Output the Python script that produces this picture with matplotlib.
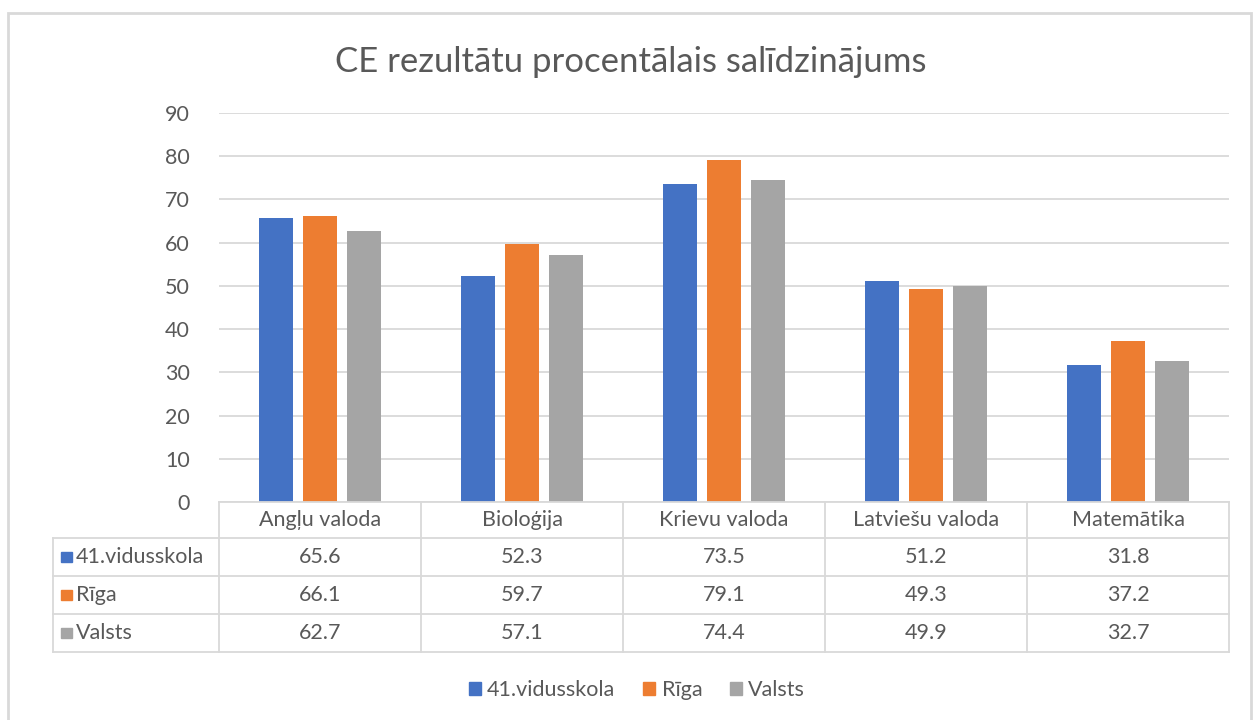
import numpy as np
import matplotlib.pyplot as plt
from matplotlib.patches import Rectangle
from matplotlib.lines import Line2D

plt.rcParams['font.family'] = ['Lato', 'DejaVu Sans']

categories = ["Angļu valoda", "Bioloģija", "Krievu valoda", "Latviešu valoda", "Matemātika"]
series_names = ["41.vidusskola", "Rīga", "Valsts"]
vidusskola = [65.6, 52.3, 73.5, 51.2, 31.8]
riga = [66.1, 59.7, 79.1, 49.3, 37.2]
valsts = [62.7, 57.1, 74.4, 49.9, 32.7]
series_values = [vidusskola, riga, valsts]
colors = ["#4472C4", "#ED7D31", "#A5A5A5"]
yticks = [0, 10, 20, 30, 40, 50, 60, 70, 80, 90]

W, H = 1259, 720
TXT = "#595959"
LINE = "#D9D9D9"
FS = 15.5

fig = plt.figure(figsize=(W / 100, H / 100), dpi=100)


def fx(px):
    return px / W


def fy(py):
    return 1 - py / H


# outer chart border
fig.add_artist(Rectangle((fx(8), fy(760)), fx(1251 - 8), fy(13) - fy(760),
                         transform=fig.transFigure, fill=False, ec=LINE, lw=2.0))

ax = fig.add_axes([fx(219), fy(502), fx(1229 - 219), fy(113) - fy(502)])
x = np.arange(len(categories))
bw, step = 0.168, 0.22
for i, (vals, c) in enumerate(zip(series_values, colors)):
    ax.bar(x + (i - 1) * step, vals, width=bw, color=c, zorder=3)

ax.set_xlim(-0.5, len(categories) - 0.5)
ax.set_ylim(0, 90)
ax.set_yticks(yticks)
ax.set_xticks([])
ax.tick_params(axis="y", length=0, pad=21, labelsize=15.5, labelcolor=TXT)
ax.grid(axis="y", color=LINE, lw=1.3, zorder=0)
for s in ax.spines.values():
    s.set_visible(False)

fig.text(fx(631), fy(62), "CE rezultātu procentālais salīdzinājums",
         ha="center", va="center", fontsize=25, color=TXT)

# data table below the axis
col_edges = [219 + 202 * k for k in range(len(categories) + 1)]
row_edges = [502, 538, 576, 614, 652]
tl = dict(transform=fig.transFigure, color=LINE, lw=1.3)
fig.add_artist(Line2D([fx(219), fx(1229)], [fy(502), fy(502)], **tl))
for yy in row_edges[1:]:
    fig.add_artist(Line2D([fx(53), fx(1229)], [fy(yy), fy(yy)], **tl))
for xx in col_edges:
    fig.add_artist(Line2D([fx(xx), fx(xx)], [fy(502), fy(652)], **tl))
fig.add_artist(Line2D([fx(53), fx(53)], [fy(538), fy(652)], **tl))

for j, cat in enumerate(categories):
    cx = (col_edges[j] + col_edges[j + 1]) / 2
    fig.text(fx(cx), fy(520), cat, ha="center", va="center", fontsize=FS, color=TXT)
for i, (name, vals, c) in enumerate(zip(series_names, series_values, colors)):
    cy = (row_edges[i + 1] + row_edges[i + 2]) / 2
    fig.add_artist(Rectangle((fx(61), fy(cy + 5)), fx(11), fy(cy - 5) - fy(cy + 5),
                             transform=fig.transFigure, color=c))
    fig.text(fx(76), fy(cy), name, ha="left", va="center", fontsize=FS, color=TXT)
    for j, v in enumerate(vals):
        cx = (col_edges[j] + col_edges[j + 1]) / 2
        fig.text(fx(cx), fy(cy), f"{v:.1f}", ha="center", va="center", fontsize=FS, color=TXT)

handles = [Rectangle((0, 0), 1, 1, color=c) for c in colors]
fig.legend(handles, series_names, loc="center", bbox_to_anchor=(fx(637), fy(690)),
           ncol=3, frameon=False, fontsize=FS, labelcolor=TXT,
           handlelength=0.55, handleheight=0.55, handletextpad=0.3, columnspacing=1.3)

fig.savefig("out.png", dpi=100, facecolor="white")
